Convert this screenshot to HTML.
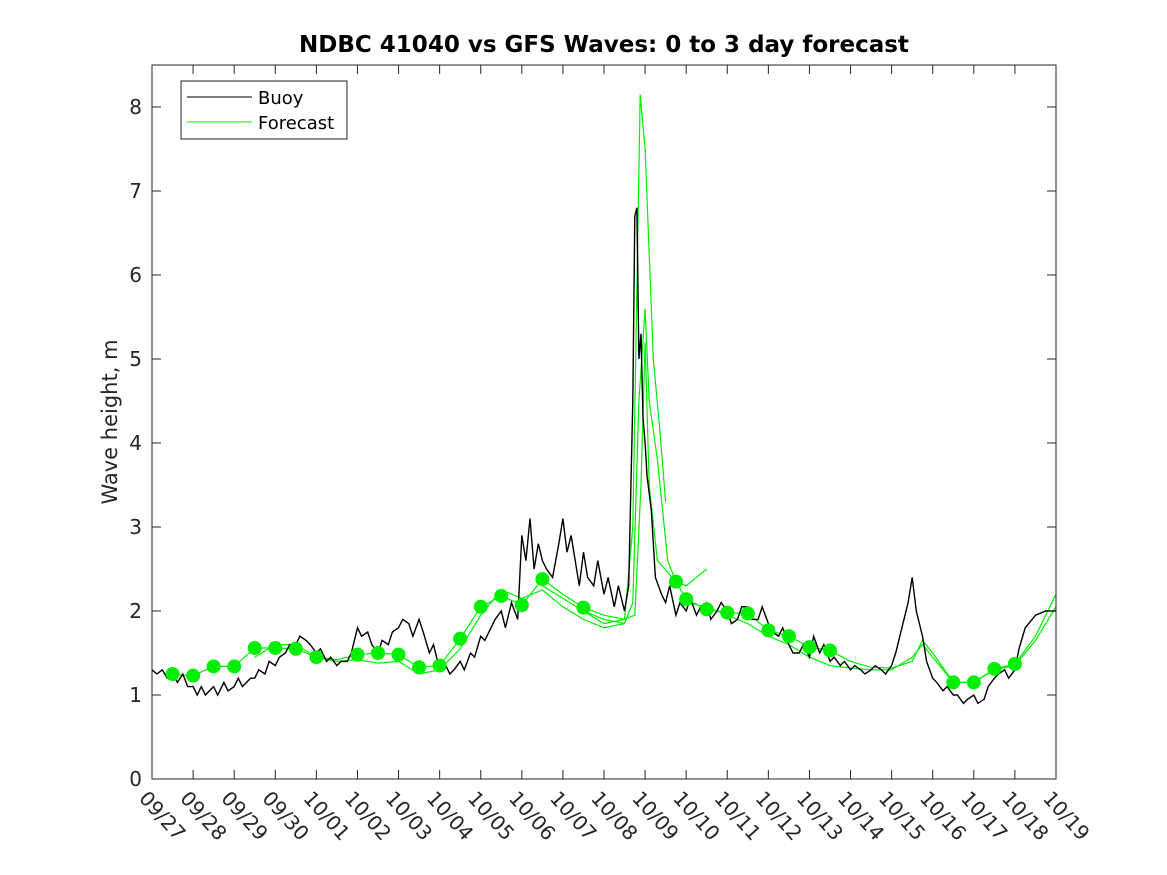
<!DOCTYPE html>
<html><head><meta charset="utf-8"><style>
body{margin:0;background:#fff;}
svg{display:block;font-family:"DejaVu Sans","Liberation Sans",sans-serif;}
</style></head><body>
<svg id="chart" width="1167" height="875" xmlns="http://www.w3.org/2000/svg">
<rect width="1167" height="875" fill="#fff"/>
<text x="604" y="52" text-anchor="middle" font-size="23" font-weight="bold">NDBC 41040 vs GFS Waves: 0 to 3 day forecast</text>
<text transform="translate(117,422) rotate(-90)" text-anchor="middle" font-size="21" fill="#262626">Wave height, m</text>
<g id="plot"></g>
<g id="axes"></g>
<g>
<rect x="181" y="81" width="166" height="58" fill="#fff" stroke="#222" stroke-width="1"/>
<line x1="187" y1="97" x2="252" y2="97" stroke="#000" stroke-width="1"/>
<text x="258" y="104" font-size="18">Buoy</text>
<line x1="187" y1="122" x2="252" y2="122" stroke="#00ee00" stroke-width="1"/>
<text x="258" y="129" font-size="18">Forecast</text>
</g>
</svg>
<script>
const xLabels=["09/27","09/28","09/29","09/30","10/01","10/02","10/03","10/04","10/05","10/06","10/07","10/08","10/09","10/10","10/11","10/12","10/13","10/14","10/15","10/16","10/17","10/18","10/19"];
const yTicks=[0,1,2,3,4,5,6,7,8];
const buoyDays=[0,0.12,0.25,0.37,0.5,0.62,0.75,0.87,1,1.1,1.2,1.3,1.4,1.5,1.6,1.75,1.85,2,2.1,2.2,2.3,2.4,2.5,2.6,2.75,2.85,3,3.1,3.25,3.35,3.5,3.6,3.75,3.85,4,4.1,4.25,4.35,4.5,4.6,4.75,4.85,5,5.1,5.25,5.35,5.5,5.6,5.75,5.85,6,6.1,6.25,6.35,6.5,6.6,6.75,6.85,7,7.1,7.25,7.35,7.5,7.6,7.75,7.85,8,8.1,8.25,8.35,8.5,8.6,8.75,8.9,9,9.1,9.2,9.3,9.4,9.5,9.6,9.75,9.9,10,10.1,10.2,10.3,10.4,10.5,10.6,10.75,10.85,11,11.1,11.25,11.35,11.5,11.6,11.7,11.75,11.8,11.85,11.9,11.95,12.0,12.05,12.15,12.25,12.4,12.5,12.6,12.75,12.85,13,13.1,13.25,13.35,13.5,13.6,13.75,13.85,14,14.1,14.25,14.35,14.5,14.6,14.75,14.85,15,15.1,15.25,15.35,15.5,15.6,15.75,15.85,16,16.1,16.25,16.35,16.5,16.6,16.75,16.85,17,17.1,17.25,17.35,17.5,17.6,17.75,17.85,18,18.1,18.25,18.4,18.5,18.6,18.75,18.85,19,19.1,19.25,19.35,19.5,19.6,19.75,19.85,20,20.1,20.25,20.35,20.5,20.6,20.75,20.85,21,21.1,21.25,21.5,21.75,22];
const buoyVals=[1.3,1.25,1.3,1.2,1.25,1.15,1.25,1.1,1.1,1.0,1.1,1.0,1.05,1.1,1.0,1.15,1.05,1.1,1.2,1.1,1.15,1.2,1.2,1.3,1.25,1.4,1.35,1.45,1.5,1.6,1.6,1.7,1.65,1.6,1.5,1.55,1.4,1.45,1.35,1.4,1.4,1.5,1.8,1.7,1.75,1.6,1.5,1.65,1.6,1.75,1.8,1.9,1.85,1.7,1.9,1.75,1.5,1.6,1.3,1.4,1.25,1.3,1.4,1.3,1.5,1.45,1.7,1.65,1.8,1.9,2.0,1.8,2.1,1.9,2.9,2.6,3.1,2.5,2.8,2.6,2.5,2.4,2.8,3.1,2.7,2.9,2.6,2.3,2.7,2.4,2.3,2.6,2.2,2.4,2.05,2.3,2.0,2.3,4.5,6.7,6.8,5.0,5.3,4.3,4.0,3.6,3.2,2.4,2.2,2.1,2.3,1.95,2.1,2.0,2.15,1.95,2.05,2.1,1.9,2.0,2.1,2.0,1.85,1.9,2.05,2.05,1.9,1.9,2.05,1.85,1.75,1.7,1.8,1.6,1.5,1.5,1.6,1.45,1.7,1.5,1.6,1.4,1.45,1.35,1.4,1.3,1.35,1.3,1.25,1.3,1.35,1.3,1.25,1.35,1.5,1.8,2.1,2.4,2.0,1.7,1.4,1.2,1.15,1.05,1.1,1.0,1.0,0.9,0.95,1.0,0.9,0.95,1.1,1.2,1.25,1.3,1.2,1.3,1.55,1.8,1.95,2.0,2.0];
const fcMainDays=[0.5,1,1.5,2,2.5,3,3.5,4,4.5,5,5.5,6,6.5,7,7.5,8,8.5,9,9.5,10,10.5,11,11.5];
const fcMainVals=[1.25,1.23,1.34,1.34,1.56,1.56,1.55,1.45,1.42,1.48,1.5,1.48,1.33,1.35,1.67,2.05,2.18,2.07,2.38,2.2,2.04,1.95,1.9];
const fcAltDays=[2.5,3,3.5,4,4.5,5,5.5,6,6.5,7,7.5,8,8.5,9,9.5,10,10.5,11,11.5];
const fcAltVals=[1.45,1.6,1.6,1.45,1.4,1.42,1.38,1.4,1.25,1.3,1.55,1.95,2.25,2.15,2.25,2.05,1.9,1.8,1.85];
const fcPeakDays=[9.5,10,10.5,11,11.5,11.7,11.88,12.0,12.2,12.35,12.5];
const fcPeakVals=[2.3,2.15,2.0,1.85,1.9,3.0,8.15,7.5,5.0,4.2,3.3];
const fcSecondDays=[10.5,11,11.5,11.7,11.85,12.0,12.1,12.3,12.55,12.75,13.0,13.5];
const fcSecondVals=[2.0,1.9,1.85,2.1,4.5,5.6,4.5,3.8,2.6,2.35,2.3,2.5];
const fcLateDays=[11.5,11.75,11.9,12.0,12.1,12.3,12.75,13,13.5,14,14.5,15,15.5,16,16.5,17,17.5,18,18.5,18.75,19,19.5,20,20.5,21,21.5,22];
const fcLateVals=[1.9,1.95,3.5,5.2,3.5,2.6,2.35,2.14,2.02,1.98,1.97,1.77,1.7,1.57,1.53,1.4,1.33,1.32,1.4,1.65,1.5,1.15,1.15,1.31,1.37,1.7,2.2];
const fcLate2Days=[13,13.5,14,14.5,15,15.5,16,16.5,17,17.5,18,18.5,18.75,19,19.5,20,20.5,21,21.5,22];
const fcLate2Vals=[2.1,2.05,1.95,1.85,1.7,1.6,1.45,1.35,1.32,1.3,1.3,1.45,1.6,1.45,1.15,1.15,1.3,1.35,1.65,2.05];
const dotDays=[0.5,1,1.5,2,2.5,3,3.5,4,5,5.5,6,6.5,7,7.5,8,8.5,9,9.5,10.5,12.75,13,13.5,14,14.5,15,15.5,16,16.5,19.5,20,20.5,21];
const dotVals=[1.25,1.23,1.34,1.34,1.56,1.56,1.55,1.45,1.48,1.5,1.48,1.33,1.35,1.67,2.05,2.18,2.07,2.38,2.04,2.35,2.14,2.02,1.98,1.97,1.77,1.7,1.57,1.53,1.15,1.15,1.31,1.37];

const X0=152,X1=1056,Y0=779,Y1=65;
function xs(d){return X0+d*(X1-X0)/22;}
function ys(v){return Y0-v*84;}
const NS="http://www.w3.org/2000/svg";
const plot=document.getElementById('plot'),axes=document.getElementById('axes');
function mk(tag,attrs,parent){const e=document.createElementNS(NS,tag);for(const k in attrs)e.setAttribute(k,attrs[k]);parent.appendChild(e);return e;}
function line(days,vals,color,name,w){
  const n=Math.min(days.length,vals.length);
  const pts=[];for(let i=0;i<n;i++)pts.push(xs(days[i]).toFixed(1)+','+ys(vals[i]).toFixed(1));
  const p=mk('polyline',{points:pts.join(' '),fill:'none',stroke:color,'stroke-width':w||1.2},plot);
  
  
}
line(fcMainDays,fcMainVals,'#00ee00','forecast-line-main');
line(fcAltDays,fcAltVals,'#00ee00','forecast-line-alt');
line(fcPeakDays,fcPeakVals,'#00ee00','forecast-line-peak');
line(fcSecondDays,fcSecondVals,'#00ee00','forecast-line-second');
line(fcLateDays,fcLateVals,'#00ee00','forecast-line-late');
line(fcLate2Days,fcLate2Vals,'#00ee00','forecast-line-late-2');
line(buoyDays,buoyVals,'#000','buoy-line',1.4);
dotDays.forEach((d,i)=>{
  const c=mk('circle',{cx:xs(d),cy:ys(dotVals[i]),r:7,fill:'#00ee00'},plot);
  
  
});
const fr=mk('rect',{x:X0,y:Y1,width:X1-X0,height:Y0-Y1,fill:'none',stroke:'#262626','stroke-width':1},axes);


yTicks.forEach(v=>{
  const y=ys(v);
  mk('line',{x1:X0,y1:y,x2:X0+9,y2:y,stroke:'#262626'},axes);
  mk('line',{x1:X1,y1:y,x2:X1-9,y2:y,stroke:'#262626'},axes);
  const t=mk('text',{x:X0-10,y:y+7,'text-anchor':'end','font-size':20,fill:'#262626'},axes);
  t.textContent=v;
  
  
});
xLabels.forEach((l,i)=>{
  const x=xs(i);
  mk('line',{x1:x,y1:Y0,x2:x,y2:Y0-9,stroke:'#262626'},axes);
  mk('line',{x1:x,y1:Y1,x2:x,y2:Y1+9,stroke:'#262626'},axes);
  const t=mk('text',{transform:'translate('+(x-14)+',799) rotate(48)','font-size':20,fill:'#262626'},axes);
  t.textContent=l;
  
  
});
</script>
</body></html>
